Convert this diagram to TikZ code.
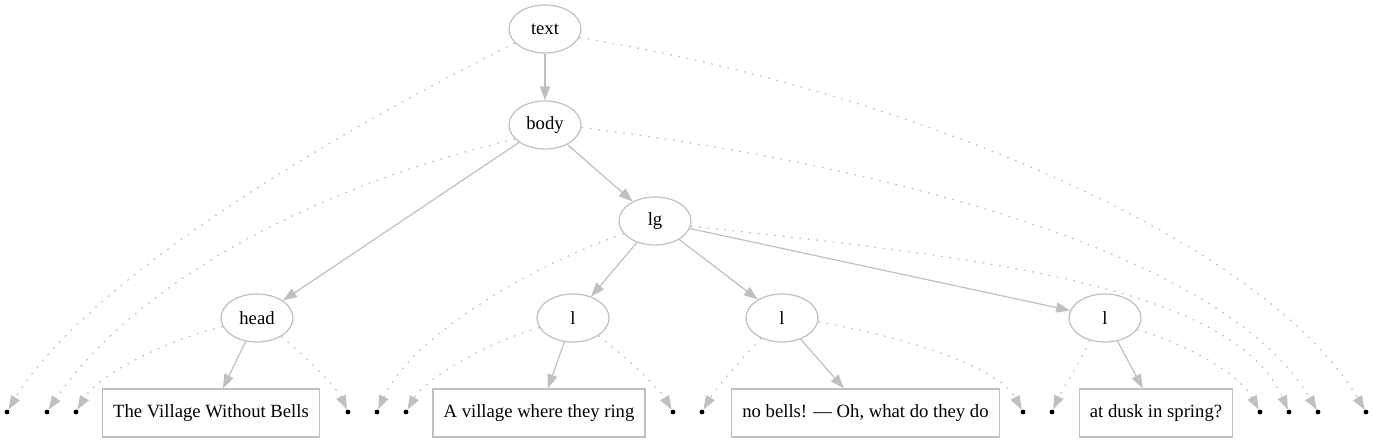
\documentclass[tikz,border=0pt]{standalone}
\usepackage{fontspec}
\setmainfont{Liberation Serif}
\usetikzlibrary{arrows.meta,shapes.geometric}
\definecolor{edgegray}{RGB}{192,192,192}
\begin{document}
\begin{tikzpicture}[x=0.75pt,y=-0.75pt,
  every node/.style={font=\fontsize{14pt}{16pt}\selectfont},
  tag/.style={ellipse,draw=edgegray,line width=0.9pt,minimum width=54pt,minimum height=36pt,inner sep=0pt},
  leaf/.style={rectangle,draw=edgegray,line width=0.9pt,minimum height=36pt,inner xsep=8pt,inner ysep=0pt},
  dotpt/.style={circle,fill=black,inner sep=0pt,minimum size=3.6pt},
  link/.style={draw=edgegray,line width=0.9pt,-{Triangle[length=10.5pt,width=7.5pt]}},
  hint/.style={link,dash pattern=on 1.3pt off 5pt}]
\useasboundingbox (0,0) rectangle (1376,443);
% element nodes
\node[tag] (text) at (545,29) {text};
\node[tag] (body) at (545,125) {body};
\node[tag] (lg) at (655,221) {lg};
\node[tag] (head) at (257,318) {head};
\node[tag] (l1) at (573,318) {l};
\node[tag] (l2) at (782,318) {l};
\node[tag] (l3) at (1105,318) {l};
% text leaves
\node[leaf] (b1) at (211,413) {The Village Without Bells};
\node[leaf] (b2) at (539,413) {A village where they ring};
\node[leaf] (b3) at (865.5,413) {no bells! — Oh, what do they do};
\node[leaf] (b4) at (1156,413) {at dusk in spring?};
% points
\foreach \n/\x in {p7/7,p47/47,p76/76,p348/348,p377/377,p406/406,p673/673,p702/702,p1023/1023,p1052/1052,p1260/1260,p1289/1289,p1318/1318,p1366/1366}
  \node[dotpt] (\n) at (\x,412) {};
% tree edges
\draw[link] (text) -- (body);
\draw[link] (body) -- (head);
\draw[link] (body) -- (lg);
\draw[link] (lg) -- (l1);
\draw[link] (lg) -- (l2);
\draw[link] (lg) -- (l3);
\draw[link] (head) -- (b1);
\draw[link] (l1) -- (b2);
\draw[link] (l2) -- (b3);
\draw[link] (l3) -- (b4);
% dotted edges
\draw[hint] (text.205) .. controls (300,150) and (80,290) .. (p7);
\draw[hint] (text.-14) .. controls (900,90) and (1260,235) .. (p1366);
\draw[hint] (body.205) .. controls (300,190) and (130,290) .. (p47);
\draw[hint] (body.-4) .. controls (850,160) and (1220,245) .. (p1318);
\draw[hint] (lg.202) .. controls (520,270) and (410,340) .. (p377);
\draw[hint] (lg.-8) .. controls (950,255) and (1230,280) .. (p1289);
\draw[hint] (head.194) .. controls (150,345) and (95,380) .. (p76);
\draw[hint] (head.-37) .. controls (310,360) and (338,390) .. (p348);
\draw[hint] (l1.196) .. controls (480,345) and (425,380) .. (p406);
\draw[hint] (l1.-35) .. controls (630,360) and (660,390) .. (p673);
\draw[hint] (l2.224) .. controls (740,360) and (715,390) .. (p702);
\draw[hint] (l2.-6) .. controls (920,340) and (1000,370) .. (p1023);
\draw[hint] (l3.236) .. controls (1078,365) and (1062,390) .. (p1052);
\draw[hint] (l3.-20) .. controls (1190,345) and (1240,375) .. (p1260);
\end{tikzpicture}
\end{document}
